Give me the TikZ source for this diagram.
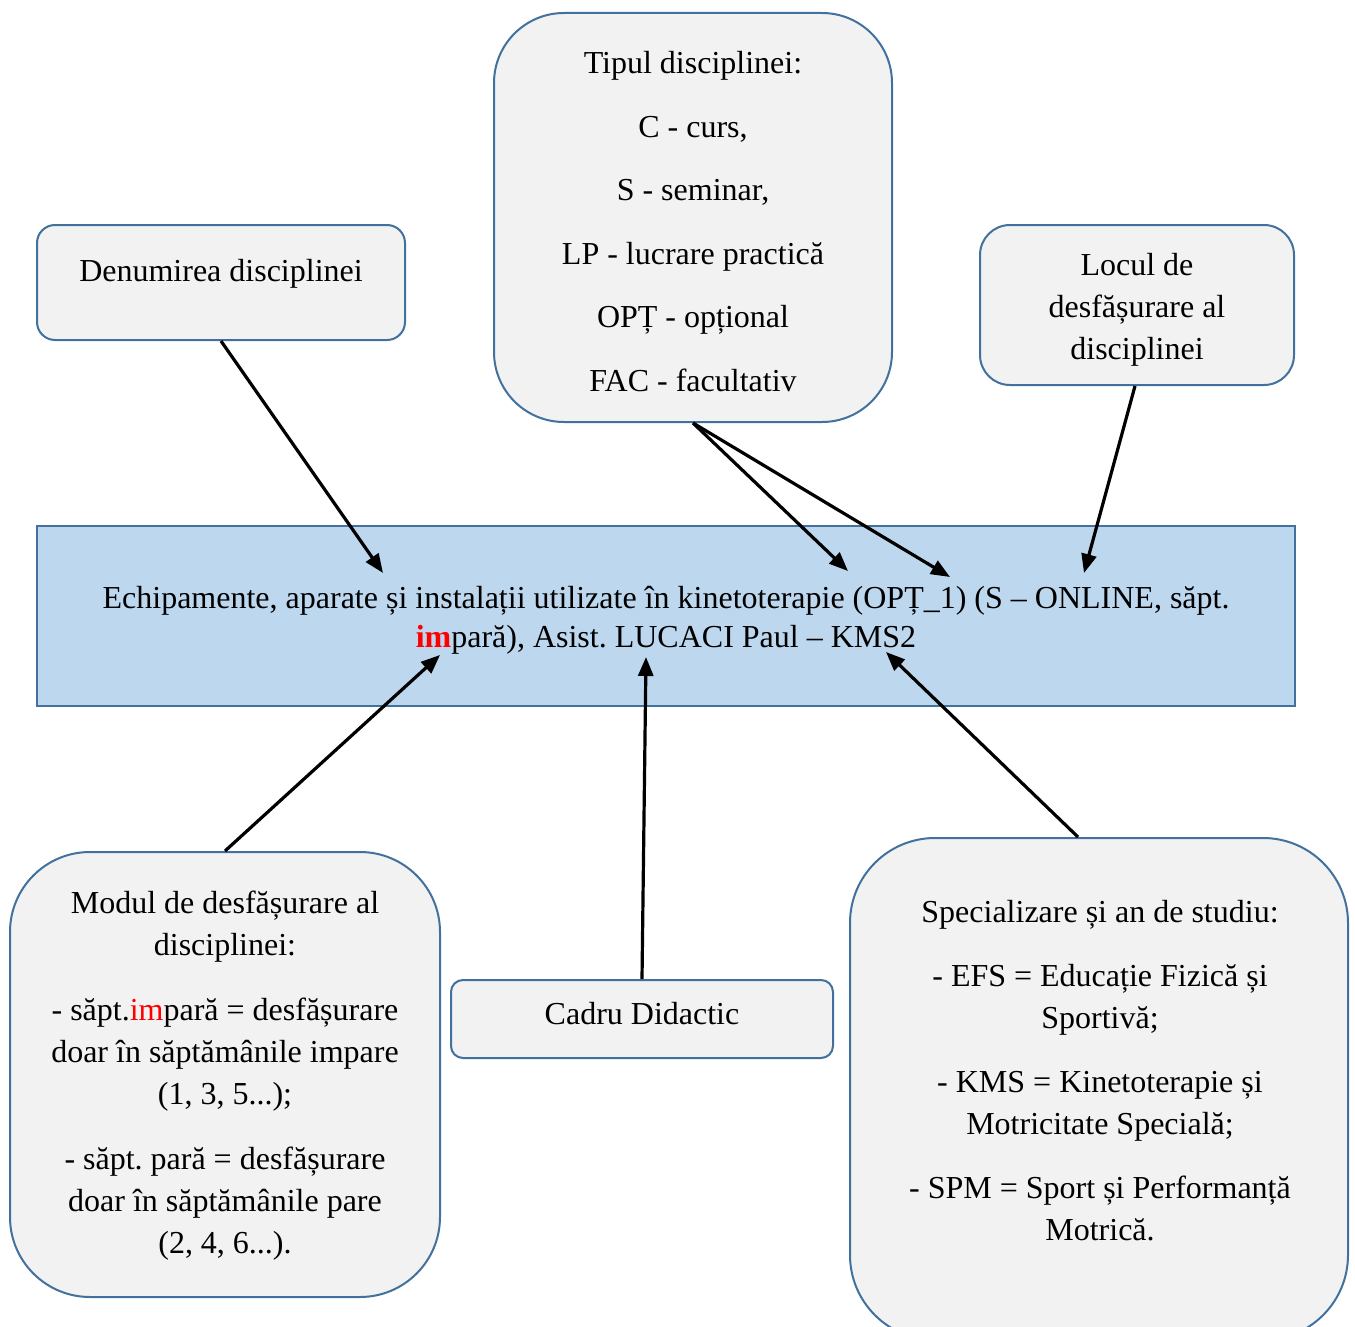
\documentclass[tikz,border=0pt]{standalone}
\usepackage{fontspec}
\setmainfont{Liberation Serif}
\usetikzlibrary{arrows.meta}
\definecolor{boxline}{HTML}{41719C}
\definecolor{boxfill}{HTML}{F2F2F2}
\definecolor{mainfill}{HTML}{BDD7EE}
\definecolor{redtxt}{HTML}{FF0000}
\frenchspacing
\begin{document}
\begin{tikzpicture}[x=1pt,y=-1pt,
  box/.style={draw=boxline, fill=boxfill, line width=2pt, inner sep=0pt},
  txt/.style={align=center, inner sep=0pt, font=\fontsize{32}{42}\selectfont},
  conn/.style={line width=3.2pt, -{Triangle[length=19pt,width=15pt]}}]
\useasboundingbox (0,0) rectangle (1355,1327);
\fill[white] (0,0) rectangle (1355,1327);

% boxes
\node[box, rounded corners=18pt, minimum width=368pt, minimum height=115pt] (den) at (221,282.5) {};
\node[txt] (dentxt) at (221,274) {Denumirea disciplinei};

\node[box, rounded corners=70pt, minimum width=398pt, minimum height=409pt] (tip) at (693,217.5) {};
\node[txt] (tiptxt) at (693,221.5) {Tipul disciplinei:\\[21.6pt]
C - curs,\\[21.6pt]
S - seminar,\\[21.6pt]
LP - lucrare practică\\[21.6pt]
OPȚ - opțional\\[21.6pt]
FAC - facultativ};

\node[box, rounded corners=30pt, minimum width=314pt, minimum height=160pt] (loc) at (1137,305) {};
\node[txt] (loctxt) at (1137,309.5) {Locul de\\ desfășurare al\\ disciplinei};

\node[draw=boxline, fill=mainfill, line width=2pt, minimum width=1258pt, minimum height=180pt, inner sep=0pt] (main) at (666,616) {};
\node[txt, font=\fontsize{32}{39}\selectfont] (maintxt) at (666,620.5) {Echipamente, aparate și instalații utilizate în kinetoterapie (OPȚ\_1) (S – ONLINE, săpt.\\
\textbf{\textcolor{redtxt}{im}}pară), Asist. LUCACI Paul – KMS2};

\node[box, rounded corners=80pt, minimum width=430pt, minimum height=445pt] (mod) at (225,1074.5) {};
\node[txt] (modtxt) at (225,1076) {Modul de desfășurare al\\ disciplinei:\\[23pt]
- săpt.\textcolor{redtxt}{im}pară = desfășurare\\ doar în săptămânile impare\\ (1, 3, 5...);\\[23pt]
- săpt. pară = desfășurare\\ doar în săptămânile pare\\ (2, 4, 6...).};

\node[box, rounded corners=12pt, minimum width=382pt, minimum height=78pt] (cad) at (642,1019) {};
\node[txt] (cadtxt) at (642,1014) {Cadru Didactic};

\node[box, rounded corners=85pt, minimum width=498pt, minimum height=502pt] (spec) at (1099,1089) {};
\node[txt] (spectxt) at (1100,1071) {Specializare și an de studiu:\\[22pt]
- EFS = Educație Fizică și\\ Sportivă;\\[22pt]
- KMS = Kinetoterapie și\\ Motricitate Specială;\\[22pt]
- SPM = Sport și Performanță\\ Motrică.};

% arrow targets inside the main box
\coordinate (t1) at (383,573);
\coordinate (t2) at (848,571);
\coordinate (t3) at (950,577);
\coordinate (t4) at (1084,573);
\coordinate (t5) at (440,655);
\coordinate (t6) at (646,657);
\coordinate (t7) at (886,652);

\draw[conn] (den.south) -- (t1);
\draw[conn] (tip.south) -- (t2);
\draw[conn] (tip.south) -- (t3);
\draw[conn] ([xshift=-2pt]loc.south) -- (t4);
\draw[conn] (mod.north) -- (t5);
\draw[conn] (cad.north) -- (t6);
\draw[conn] ([xshift=-21pt]spec.north) -- (t7);
\end{tikzpicture}
\end{document}
